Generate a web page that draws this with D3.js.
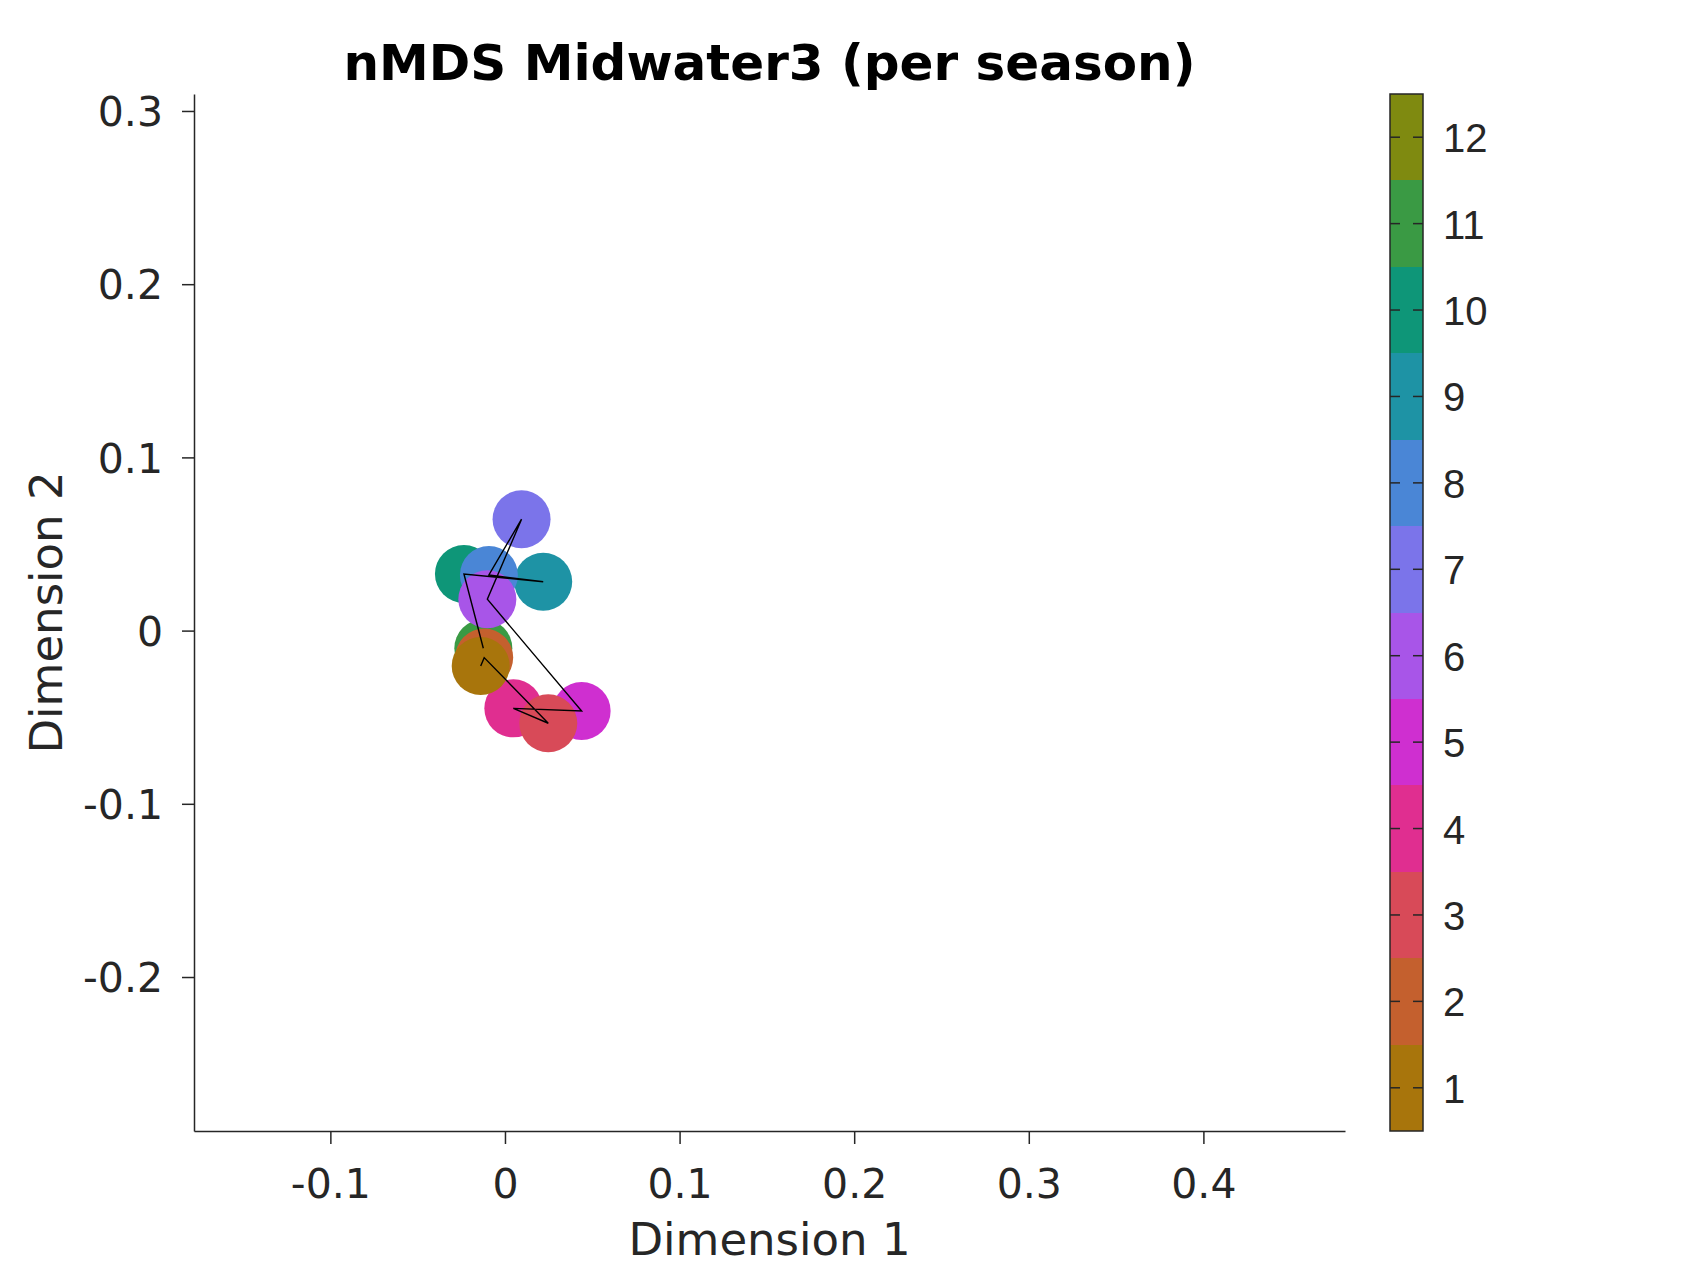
<!DOCTYPE html>
<html>
<head>
<meta charset="utf-8">
<script src="https://cdn.jsdelivr.net/npm/d3@7"></script>
<style>
body { margin: 0; background: #fff; }
</style>
</head>
<body>
<div id="canvas"></div>
<script>
// ----------------------------------------------------------
// DATA -----------------------------------------------------
// ----------------------------------------------------------
var months = [1, 2, 3, 4, 5, 6, 7, 8, 9, 10, 11];
var dim1 = [-0.0139, -0.0119, 0.0248, 0.0048, 0.0439, -0.0101, 0.0095, -0.0092, 0.0219, -0.0235, -0.0124];
var dim2 = [-0.0204, -0.0156, -0.0535, -0.0449, -0.0464, 0.0181, 0.0643, 0.0321, 0.0282, 0.0327, -0.0102];

var colorbar_ticks = [1, 2, 3, 4, 5, 6, 7, 8, 9, 10, 11, 12];
var month_colors = ["#a8750c", "#c4602e", "#d84a58", "#e02e90", "#cf2fd0", "#a855e8",
  "#7b74ea", "#4a86d6", "#1e93a5", "#0e9678", "#3a9a44", "#7f8a10"];

var x_ticks = [-0.1, 0, 0.1, 0.2, 0.3, 0.4];
var y_ticks = [-0.2, -0.1, 0, 0.1, 0.2, 0.3];

var points = months.map((m, i) => ({ month: m, x: dim1[i], y: dim2[i] }));

// ----------------------------------------------------------
// STRUCTURE ------------------------------------------------
// ----------------------------------------------------------
var W = 1697, H = 1273;
var plot = { left: 194, right: 1345, top: 94, bottom: 1131 };
var axis_color = "#262626";
var tick_font = "'DejaVu Sans', sans-serif";

// plain hyphen for negatives, like the original
var fmt = d => d === 0 ? "0" : d3.format(".1f")(d).replace("\u2212", "-");

var svg = d3.select("#canvas").append("svg")
  .attr("width", W)
  .attr("height", H)
  .style("background-color", "#fff");

// scales
var xScale = d3.scaleLinear()
  .domain([-0.1781, 0.4811])
  .range([plot.left, plot.right]);
var yScale = d3.scaleLinear()
  .domain([-0.2889, 0.3098])
  .range([plot.bottom, plot.top]);
var colorScale = d3.scaleOrdinal()
  .domain(colorbar_ticks)
  .range(month_colors);

// axes
var xAxis = svg.append("g")
  .attr("transform", `translate(0, ${plot.bottom})`)
  .call(d3.axisBottom(xScale).tickValues(x_ticks).tickSize(13).tickSizeOuter(0).tickFormat(fmt));
var yAxis = svg.append("g")
  .attr("transform", `translate(${plot.left}, 0)`)
  .call(d3.axisLeft(yScale).tickValues(y_ticks).tickSize(12).tickSizeOuter(0).tickFormat(fmt));

[xAxis, yAxis].forEach(a => {
  a.select(".domain").attr("stroke", axis_color).attr("stroke-width", 1.5);
  a.selectAll(".tick line").attr("stroke", axis_color).attr("stroke-width", 1.5);
  a.selectAll(".tick text")
    .attr("fill", axis_color)
    .style("font-family", tick_font)
    .style("font-size", "41px");
});
xAxis.selectAll(".tick text").attr("y", 0).attr("dy", null)
  .attr("transform", "translate(0, 67)");
yAxis.selectAll(".tick text").attr("x", -31).attr("dy", "0.36em");

// ----------------------------------------------------------
// GFX ------------------------------------------------------
// ----------------------------------------------------------
var gfx = svg.append("g").attr("class", "gfx");

// circles, drawn from the last month back so january ends on top
gfx.selectAll("circle")
  .data(points.slice().reverse())
  .enter()
  .append("circle")
  .attr("cx", d => xScale(d.x))
  .attr("cy", d => yScale(d.y))
  .attr("r", 29)
  .attr("fill", d => colorScale(d.month));

// trajectory through the months
var line = d3.line()
  .x(d => xScale(d.x))
  .y(d => yScale(d.y));
gfx.append("path")
  .datum(points)
  .attr("d", line)
  .attr("fill", "none")
  .attr("stroke", "#000")
  .attr("stroke-width", 1.4)
  .attr("stroke-linejoin", "miter");

// COLORBAR -------------------------------------------------
var cb = { left: 1390, width: 33 };
var cbScale = d3.scaleLinear()
  .domain([0.5, 12.5])
  .range([plot.bottom, plot.top]);
var cb_group = svg.append("g").attr("class", "colorbar");

cb_group.selectAll("rect.band")
  .data(colorbar_ticks)
  .enter()
  .append("rect")
  .attr("class", "band")
  .attr("x", cb.left)
  .attr("y", d => cbScale(d + 0.5))
  .attr("width", cb.width)
  .attr("height", d => cbScale(d - 0.5) - cbScale(d + 0.5))
  .attr("fill", d => colorScale(d))
  .attr("shape-rendering", "crispEdges");

cb_group.append("rect")
  .attr("x", cb.left)
  .attr("y", plot.top)
  .attr("width", cb.width)
  .attr("height", plot.bottom - plot.top)
  .attr("fill", "none")
  .attr("stroke", axis_color)
  .attr("stroke-width", 1.5);

var cb_ticks = cb_group.selectAll("g.cbtick")
  .data(colorbar_ticks)
  .enter()
  .append("g")
  .attr("class", "cbtick")
  .attr("transform", d => `translate(0, ${cbScale(d)})`);
cb_ticks.append("line")
  .attr("x1", cb.left).attr("x2", cb.left + 10)
  .attr("stroke", axis_color).attr("stroke-width", 1.5);
cb_ticks.append("line")
  .attr("x1", cb.left + cb.width - 10).attr("x2", cb.left + cb.width)
  .attr("stroke", axis_color).attr("stroke-width", 1.5);
cb_ticks.append("text")
  .attr("x", 1443)
  .attr("y", 15)
  .attr("fill", axis_color)
  .style("font-family", "'Liberation Sans', Arial, sans-serif")
  .style("font-size", "40px")
  .text(d => d);

// ----------------------------------------------------------
// TEXT -----------------------------------------------------
// ----------------------------------------------------------
svg.append("text")
  .attr("x", (plot.left + plot.right) / 2)
  .attr("y", 80)
  .attr("text-anchor", "middle")
  .style("font-family", tick_font)
  .style("font-weight", "bold")
  .style("font-size", "50px")
  .attr("fill", "#000")
  .text("nMDS Midwater3 (per season)");

svg.append("text")
  .attr("x", (plot.left + plot.right) / 2)
  .attr("y", 1255)
  .attr("text-anchor", "middle")
  .style("font-family", tick_font)
  .style("font-size", "45px")
  .attr("fill", axis_color)
  .text("Dimension 1");

svg.append("text")
  .attr("transform", `translate(62, ${(plot.top + plot.bottom) / 2}) rotate(-90)`)
  .attr("text-anchor", "middle")
  .style("font-family", tick_font)
  .style("font-size", "45px")
  .attr("fill", axis_color)
  .text("Dimension 2");
</script>
</body>
</html>
